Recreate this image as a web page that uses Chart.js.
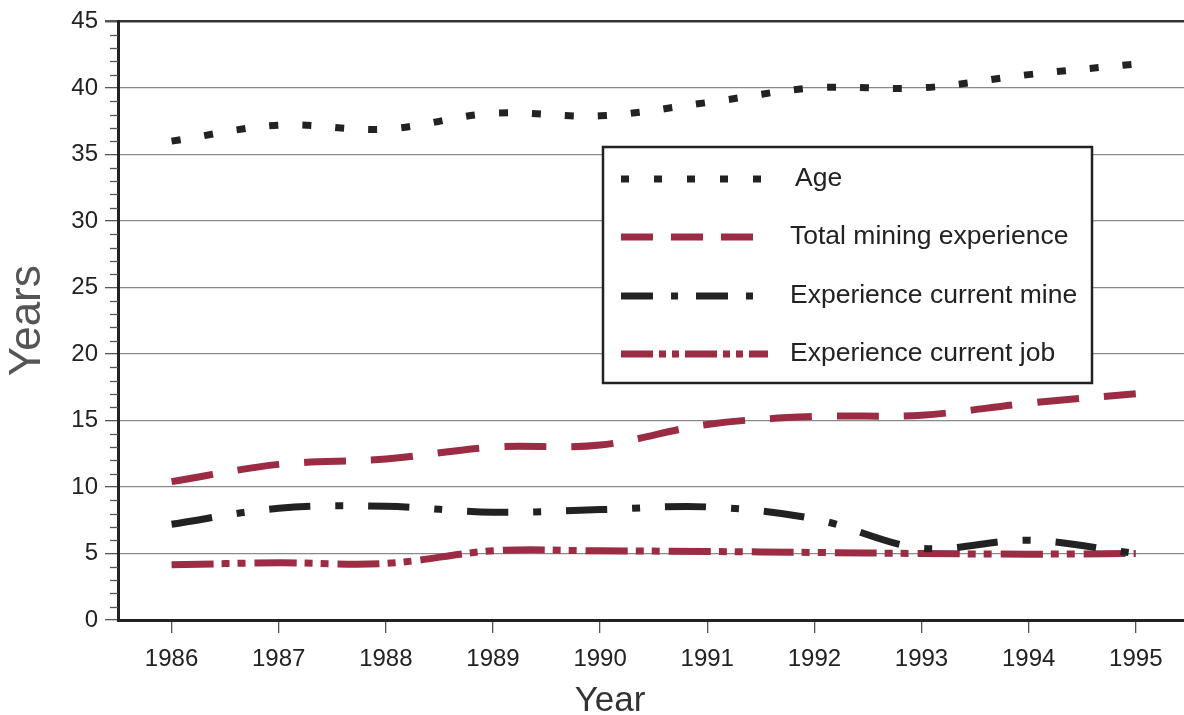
<!DOCTYPE html>
<html>
<head>
<meta charset="utf-8">
<script src="https://cdn.jsdelivr.net/npm/chart.js@4.4.1/dist/chart.umd.min.js"></script>
<style>
  html, body { margin: 0; padding: 0; background: #fff; }
  #wrap { position: relative; width: 1184px; height: 715px; }
</style>
</head>
<body>
<div id="wrap"><canvas id="chart"></canvas></div>
<script>
const years = [1986, 1987, 1988, 1989, 1990, 1991, 1992, 1993, 1994, 1995];
const age = [36.0, 37.2, 36.9, 38.1, 37.9, 38.9, 40.0, 40.0, 41.0, 41.8];
const totalMining = [10.4, 11.7, 12.1, 13.0, 13.15, 14.7, 15.3, 15.4, 16.3, 17.0];
const currentMine = [7.2, 8.4, 8.55, 8.1, 8.3, 8.5, 7.6, 5.4, 6.0, 5.0];
const currentJob = [4.15, 4.3, 4.25, 5.2, 5.2, 5.15, 5.08, 5.0, 4.95, 5.0];

const seriesNames = ['Age', 'Total mining experience', 'Experience current mine', 'Experience current job'];

const RED = '#9b2c43';
const DARK = '#222222';
const FONT = '"Liberation Sans", Arial, sans-serif';

// dash patterns: plot lines vs. legend samples (legend uses shorter ones)
const plotDash = [[9, 24], [42, 25], [41, 25, 8, 25], [42, 8, 8, 8, 8, 9]];
const legendDash = [[8, 25], [32, 18], [32, 18, 7, 18], [32, 6, 7, 6, 7, 6]];
const colors = [DARK, RED, DARK, RED];

function toPoints(values) {
    return years.map((y, i) => ({ x: y, y: values[i] }));
}

const allSeries = [age, totalMining, currentMine, currentJob];

const datasets = allSeries.map((vals, i) => ({
    label: seriesNames[i],
    data: toPoints(vals),
    borderColor: colors[i],
    borderWidth: 7,
    borderDash: plotDash[i],
    borderCapStyle: 'butt',
    tension: 0.35,
    pointRadius: 0,
    fill: false
}));

// minor ticks on y axis + boxed legend + x title
const extrasPlugin = {
    id: 'extras',
    afterDraw(chart) {
        const ctx = chart.ctx;
        const yScale = chart.scales.y;
        const left = chart.chartArea.left;

        // minor y ticks every 1 year
        ctx.save();
        ctx.strokeStyle = '#555';
        ctx.lineWidth = 1.3;
        for (let v = 0; v <= 45; v++) {
            if (v % 5 === 0) continue;
            const py = Math.round(yScale.getPixelForValue(v)) + 0.5;
            ctx.beginPath();
            ctx.moveTo(left - 8, py);
            ctx.lineTo(left, py);
            ctx.stroke();
        }
        ctx.restore();

        // legend box
        const bx = 603, by = 147, bw = 489, bh = 236;
        ctx.save();
        ctx.fillStyle = '#fff';
        ctx.fillRect(bx, by, bw, bh);
        ctx.strokeStyle = DARK;
        ctx.lineWidth = 2.5;
        ctx.strokeRect(bx, by, bw, bh);
        const rows = [179, 237, 296, 354];
        ctx.font = '26.5px ' + FONT;
        ctx.textBaseline = 'middle';
        rows.forEach((ry, i) => {
            ctx.beginPath();
            ctx.setLineDash(legendDash[i]);
            ctx.lineCap = 'butt';
            ctx.strokeStyle = colors[i];
            ctx.lineWidth = 7;
            ctx.moveTo(621, ry);
            ctx.lineTo(768, ry);
            ctx.stroke();
            ctx.setLineDash([]);
            ctx.fillStyle = DARK;
            ctx.fillText(seriesNames[i], i === 0 ? 795 : 790, ry);
        });

        // x axis title
        ctx.font = '35px ' + FONT;
        ctx.fillStyle = '#333';
        ctx.textAlign = 'center';
        ctx.fillText('Year', 610, 701);
        ctx.restore();
    }
};

new Chart(document.getElementById('chart'), {
    type: 'line',
    data: { datasets: datasets },
    plugins: [extrasPlugin],
    options: {
        responsive: true,
        maintainAspectRatio: false,
        animation: false,
        layout: { padding: { top: 17, right: 0, left: 0, bottom: 0 } },
        plugins: {
            legend: { display: false },
            tooltip: { enabled: false }
        },
        scales: {
            x: {
                type: 'linear',
                min: 1985.5,
                max: 1995.45,
                afterBuildTicks(scale) {
                    scale.ticks = years.map(v => ({ value: v }));
                },
                afterFit(scale) { scale.height = 95; },
                border: { color: DARK, width: 3 },
                grid: {
                    drawOnChartArea: false,
                    drawTicks: true,
                    tickLength: 13,
                    tickColor: '#555',
                    lineWidth: 1.3
                },
                ticks: {
                    color: DARK,
                    padding: 12,
                    font: { family: FONT, size: 24 },
                    callback: v => String(v)
                }
            },
            y: {
                min: 0,
                max: 45,
                afterFit(scale) { scale.width = 118; },
                border: { color: DARK, width: 3 },
                grid: {
                    color: c => (c.tick && c.tick.value === 45 ? '#333' : '#8a8a8a'),
                    lineWidth: c => (c.tick && c.tick.value === 45 ? 2.5 : 1.3),
                    tickColor: '#555',
                    tickLength: 13
                },
                ticks: {
                    stepSize: 5,
                    color: DARK,
                    padding: 7,
                    font: { family: FONT, size: 24 }
                },
                title: {
                    display: true,
                    text: 'Years',
                    color: '#555',
                    padding: { top: 6, bottom: 0 },
                    font: { family: FONT, size: 44, lineHeight: 1 }
                }
            }
        }
    }
});
</script>
</body>
</html>
